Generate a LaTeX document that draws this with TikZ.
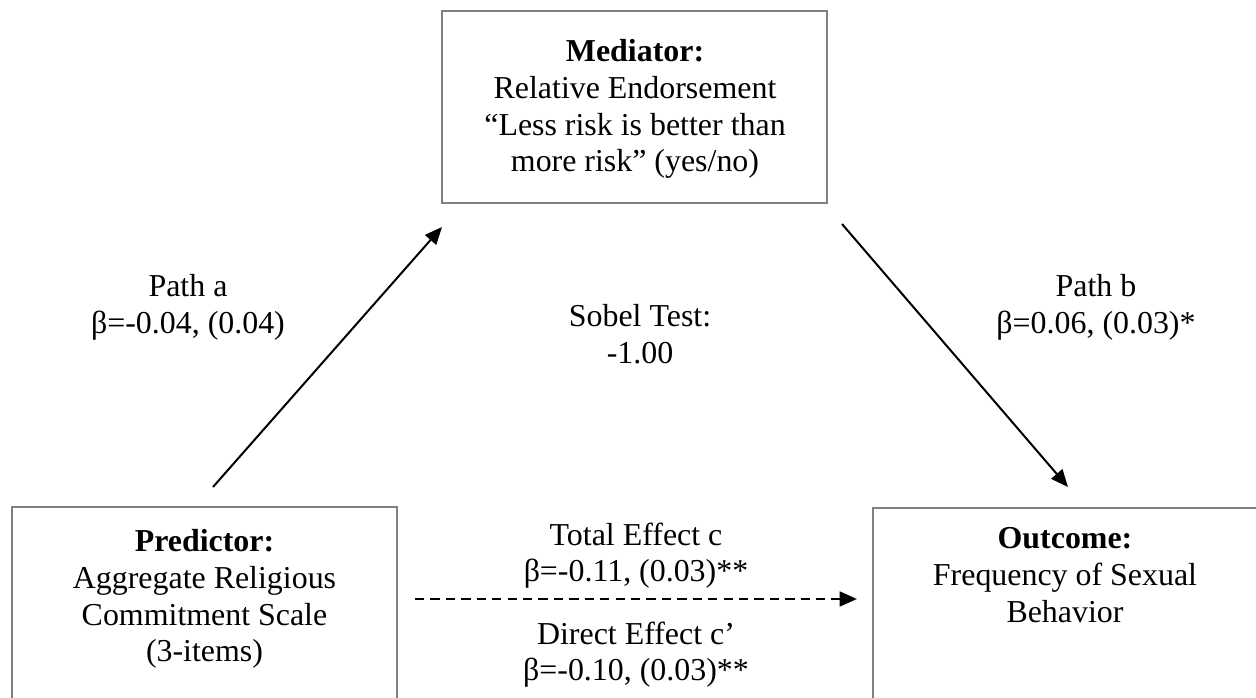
\documentclass[tikz,border=0pt]{standalone}
\usepackage{fontspec}
\setmainfont{Liberation Serif}
\usetikzlibrary{arrows.meta, positioning}

\begin{document}
\begin{tikzpicture}[x=0.376pt, y=-0.376pt,
    font=\fontsize{12}{13.8}\selectfont,
    varbox/.style={draw={rgb,255:red,128;green,128;blue,128}, line width=0.75pt},
    vartext/.style={anchor=north, align=center, inner sep=0pt},
    pathlabel/.style={anchor=north, align=center, inner sep=0pt},
    effect/.style={-{Triangle[length=6.5pt, width=5.5pt]}, line width=0.75pt},
    effectdash/.style={effect, line width=1pt, dash pattern=on 3.5pt off 2.3pt}]
\useasboundingbox (0,0) rectangle (1256,698);

% variable boxes (the lower two run off the page)
\draw[varbox] (442,11) rectangle (827,203);
\draw[varbox] (12,507) rectangle (397,730);
\draw[varbox] (873,508) rectangle (1270,730);

\node[vartext] (med) at (635,39) {\textbf{Mediator:}\\Relative Endorsement\\“Less risk is better than\\more risk” (yes/no)};
\node[vartext] (pred) at (204.5,529) {\textbf{Predictor:}\\Aggregate Religious\\Commitment Scale\\(3-items)};
\node[vartext] (outc) at (1065,527) {\textbf{Outcome:}\\Frequency of Sexual\\Behavior};

% free ends of the paths
\coordinate (a-from) at (213,487);
\coordinate (a-to) at (442,227);
\coordinate (b-from) at (842,224);
\coordinate (b-to) at (1068,487);
\coordinate (c-from) at (415,599);
\coordinate (c-to) at (857,599);

\draw[effect] (a-from) -- (a-to);
\draw[effect] (b-from) -- (b-to);
\draw[effectdash] (c-from) -- (c-to);

% path labels
\node[pathlabel] (lab-a) at (188,274) {Path a\\β=-0.04, (0.04)};
\node[pathlabel] (lab-b) at (1096,274) {Path b\\β=0.06, (0.03)*};
\node[pathlabel] (sobel) at (640,304) {Sobel Test:\\-1.00};
\node[pathlabel] (total) at (636,522) {Total Effect c\\β=-0.11, (0.03)**};
\node[pathlabel] (direct) at (636,621) {Direct Effect c’\\β=-0.10, (0.03)**};
\end{tikzpicture}
\end{document}
